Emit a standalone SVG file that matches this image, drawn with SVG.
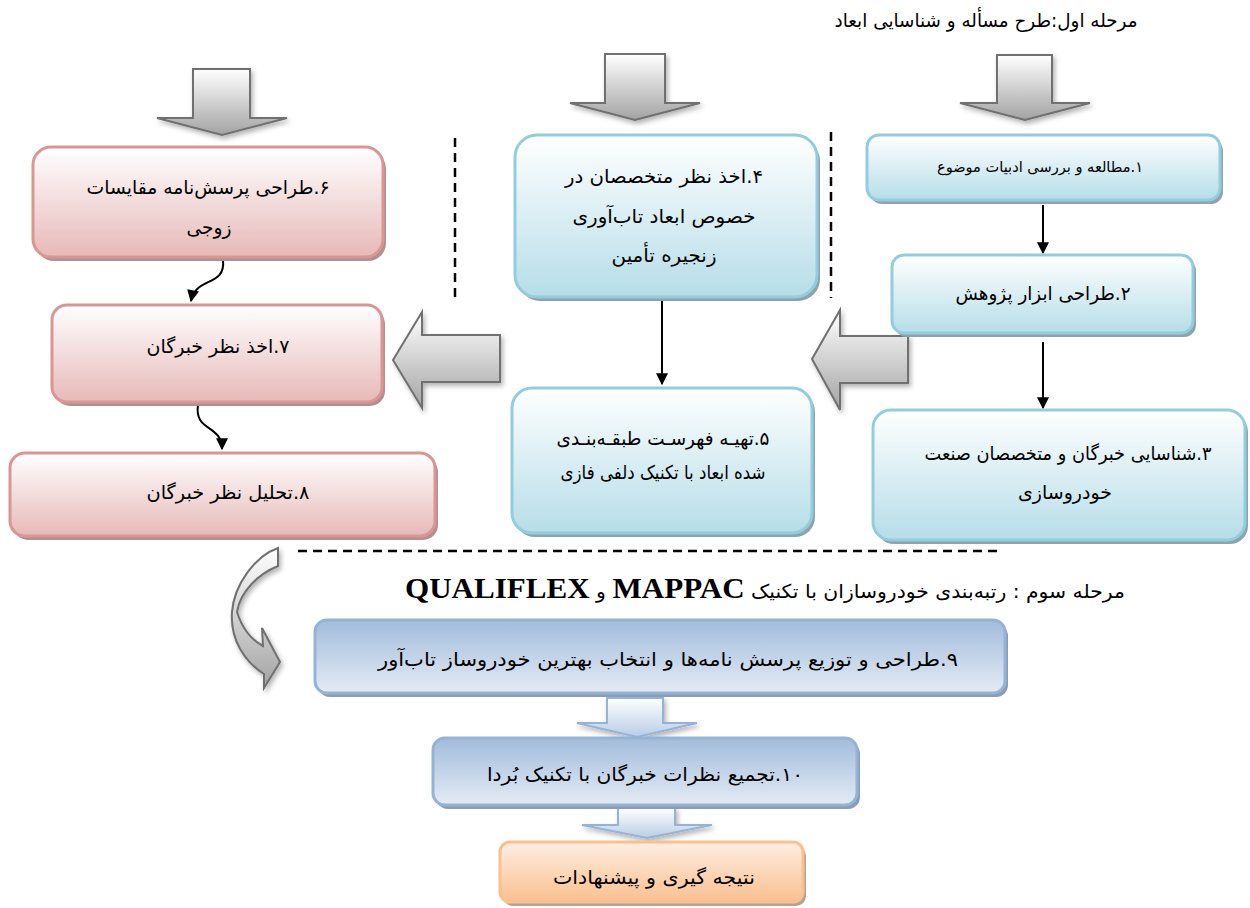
<svg xmlns="http://www.w3.org/2000/svg" width="1250" height="908" viewBox="0 0 1250 908">
<defs>
<linearGradient id="gBlue" x1="0" y1="0" x2="0" y2="1"><stop offset="0" stop-color="#ffffff"/><stop offset="1" stop-color="#b6dde8"/></linearGradient>
<linearGradient id="gPink" x1="0" y1="0" x2="0" y2="1"><stop offset="0" stop-color="#ffffff"/><stop offset="1" stop-color="#e6b9b8"/></linearGradient>
<linearGradient id="gSteel" x1="0" y1="0" x2="0" y2="1"><stop offset="0" stop-color="#a2bcdc"/><stop offset="1" stop-color="#e4ebf4"/></linearGradient>
<linearGradient id="gOrange" x1="0" y1="0" x2="0" y2="1"><stop offset="0" stop-color="#fdeee2"/><stop offset="1" stop-color="#fac08f"/></linearGradient>
<linearGradient id="gGray" x1="0" y1="0" x2="0" y2="1"><stop offset="0" stop-color="#ffffff"/><stop offset="1" stop-color="#a3a3a3"/></linearGradient>
<linearGradient id="gArrowBlue" x1="0" y1="0" x2="0" y2="1"><stop offset="0" stop-color="#ffffff"/><stop offset="1" stop-color="#b9cde5"/></linearGradient>
<filter id="soft" x="-20%" y="-20%" width="150%" height="150%"><feDropShadow dx="2" dy="3" stdDeviation="2.5" flood-color="#000" flood-opacity="0.3"/></filter>
<marker id="ah" viewBox="0 0 10 10" refX="9" refY="5" markerWidth="7" markerHeight="6" markerUnits="strokeWidth" orient="auto"><path d="M0,0 L10,5 L0,10 Z" fill="#000"/></marker>
<style>
.t{font-family:"DejaVu Sans",sans-serif;font-size:19px;fill:#000;direction:rtl;unicode-bidi:embed;text-anchor:middle}
.small{font-size:15px}
.bn{fill:url(#gBlue);stroke:#93cddd;stroke-width:3}
.bs{fill:#8da4ac}
.pn{fill:url(#gPink);stroke:#d99694;stroke-width:3}
.ps{fill:#b09090}
.sn{fill:url(#gSteel);stroke:#95b3d7;stroke-width:3}
.ss{fill:#8c9cb1}
.on{fill:url(#gOrange);stroke:#fac08f;stroke-width:3}
.os{fill:#b3a295}
.ga{fill:url(#gGray);stroke:#6f6f6f;stroke-width:2;stroke-linejoin:miter;filter:url(#soft)}
.ba{fill:url(#gArrowBlue);stroke:#95b3d7;stroke-width:2;filter:url(#soft)}
.ln{fill:none;stroke:#000;stroke-width:2}
.dash{fill:none;stroke:#000;stroke-width:2.5;stroke-dasharray:9 6}
.lat{font-family:"Liberation Serif",serif;font-weight:bold;font-size:29px}
</style>
</defs>
<rect width="1250" height="908" fill="#ffffff"/>

<g id="titles">
<text class="t" x="986" y="27" textLength="303" lengthAdjust="spacingAndGlyphs">مرحله اول:طرح مسأله و شناسایی ابعاد</text>
<text class="t" x="765" y="598" font-size="20.5" textLength="720" lengthAdjust="spacingAndGlyphs"><tspan>مرحله سوم : رتبه‌بندی خودروسازان با تکنیک </tspan><tspan class="lat">MAPPAC</tspan><tspan> و </tspan><tspan class="lat">QUALIFLEX</tspan></text>
</g>

<g id="dividers">
<line class="dash" x1="455" y1="138" x2="455" y2="298"/>
<line class="dash" x1="831" y1="132" x2="831" y2="298"/>
<line class="dash" x1="298" y1="551" x2="1000" y2="551"/>
</g>

<g id="block-arrows">
<polygon class="ga" points="997,55 1052,55 1052,103 1090,103 1025,120 960,103 997,103"/>
<polygon class="ga" points="605,54 665,54 665,103 700,103 635,120 570,103 605,103"/>
<polygon class="ga" points="193,69 250,69 250,118 287,118 222,135 157,118 193,118"/>
<polygon class="ga" points="393,360 422,312 422,335 500,335 500,382 422,382 422,408"/>
<polygon class="ga" points="812,359 840,310 840,336 908,336 908,383 840,383 840,410"/>
<path class="ga" d="M278,548 L278,566 C258,574 240,592 237,612 C242,628 252,640 263,646 L262,628 L280,662 L264,688 L264,674 C245,662 230,640 232,612 C234,585 255,556 278,548 Z"/>
<polygon class="ba" points="607,698 663,698 663,723 697,723 637,737 577,723 607,723"/>
<polygon class="ba" points="618,808 675,808 675,825 712,825 647,838 582,825 618,825"/>
</g>

<g id="connectors">
<line class="ln" x1="1043" y1="205" x2="1043" y2="253" marker-end="url(#ah)"/>
<line class="ln" x1="1043" y1="342" x2="1043" y2="408" marker-end="url(#ah)"/>
<line class="ln" x1="662" y1="301" x2="662" y2="384" marker-end="url(#ah)"/>
<path class="ln" d="M223,260 C226,287 196,276 191,301" marker-end="url(#ah)"/>
<path class="ln" d="M198,405 C194,432 222,424 222,449" marker-end="url(#ah)"/>
</g>

<g id="node1">
<rect class="bs" x="870" y="139" width="353" height="65" rx="12"/>
<rect class="bn" x="867" y="135" width="353" height="65" rx="12"/>
<text class="t small" x="1040" y="172" textLength="206" lengthAdjust="spacingAndGlyphs">۱.مطالعه و بررسی ادبیات موضوع</text>
</g>
<g id="node2">
<rect class="bs" x="895" y="259" width="301" height="78" rx="12"/>
<rect class="bn" x="892" y="255" width="301" height="78" rx="12"/>
<text class="t" x="1043" y="300" textLength="175" lengthAdjust="spacingAndGlyphs">۲.طراحی ابزار پژوهش</text>
</g>
<g id="node3">
<rect class="bs" x="876" y="414" width="372" height="130" rx="18"/>
<rect class="bn" x="873" y="410" width="372" height="130" rx="18"/>
<text class="t" x="1068" y="460" textLength="287" lengthAdjust="spacingAndGlyphs">۳.شناسایی خبرگان و متخصصان صنعت</text>
<text class="t" x="1065" y="499" textLength="94" lengthAdjust="spacingAndGlyphs">خودروسازی</text>
</g>
<g id="node4">
<rect class="bs" x="518" y="139" width="302" height="162" rx="22"/>
<rect class="bn" x="515" y="135" width="302" height="162" rx="22"/>
<text class="t" x="664" y="183" textLength="198" lengthAdjust="spacingAndGlyphs">۴.اخذ نظر متخصصان در</text>
<text class="t" x="664" y="223" textLength="183" lengthAdjust="spacingAndGlyphs">خصوص ابعاد تاب‌آوری</text>
<text class="t" x="664" y="262" textLength="105" lengthAdjust="spacingAndGlyphs">زنجیره تأمین</text>
</g>
<g id="node5">
<rect class="bs" x="515" y="392" width="300" height="145" rx="20"/>
<rect class="bn" x="512" y="388" width="300" height="145" rx="20"/>
<text class="t" x="663" y="445" textLength="213" lengthAdjust="spacingAndGlyphs">۵.تهیـه فهرسـت طبقـه‌بنـدی</text>
<text class="t" x="663" y="479" textLength="205" lengthAdjust="spacingAndGlyphs">شده ابعاد با تکنیک دلفی فازی</text>
</g>
<g id="node6">
<rect class="ps" x="36" y="151" width="350" height="110" rx="18"/>
<rect class="pn" x="33" y="147" width="350" height="110" rx="18"/>
<text class="t" x="208" y="194" textLength="243" lengthAdjust="spacingAndGlyphs">۶.طراحی پرسش‌نامه  مقایسات</text>
<text class="t" x="209" y="234" textLength="45" lengthAdjust="spacingAndGlyphs">زوجی</text>
</g>
<g id="node7">
<rect class="ps" x="55" y="309" width="330" height="97" rx="15"/>
<rect class="pn" x="52" y="305" width="330" height="97" rx="15"/>
<text class="t" x="218" y="353" textLength="143" lengthAdjust="spacingAndGlyphs">۷.اخذ نظر خبرگان</text>
</g>
<g id="node8">
<rect class="ps" x="13" y="457" width="425" height="83" rx="15"/>
<rect class="pn" x="10" y="453" width="425" height="83" rx="15"/>
<text class="t" x="228" y="499" textLength="163" lengthAdjust="spacingAndGlyphs">۸.تحلیل نظر خبرگان</text>
</g>
<g id="node9">
<rect class="ss" x="318" y="624" width="690" height="73" rx="12"/>
<rect class="sn" x="315" y="620" width="690" height="73" rx="12"/>
<text class="t" x="668" y="666" textLength="580" lengthAdjust="spacingAndGlyphs">۹.طراحی و توزیع پرسش نامه‌ها و انتخاب بهترین خودروساز تاب‌آور</text>
</g>
<g id="node10">
<rect class="ss" x="436" y="742" width="424" height="67" rx="12"/>
<rect class="sn" x="433" y="738" width="424" height="67" rx="12"/>
<text class="t" x="645" y="781" textLength="316" lengthAdjust="spacingAndGlyphs">۱۰.تجمیع نظرات خبرگان با تکنیک بُردا</text>
</g>
<g id="node11">
<rect class="os" x="503" y="846" width="303" height="60" rx="10"/>
<rect class="on" x="500" y="842" width="303" height="60" rx="10"/>
<text class="t" x="654" y="884" textLength="202" lengthAdjust="spacingAndGlyphs">نتیجه گیری و پیشنهادات</text>
</g>
</svg>
